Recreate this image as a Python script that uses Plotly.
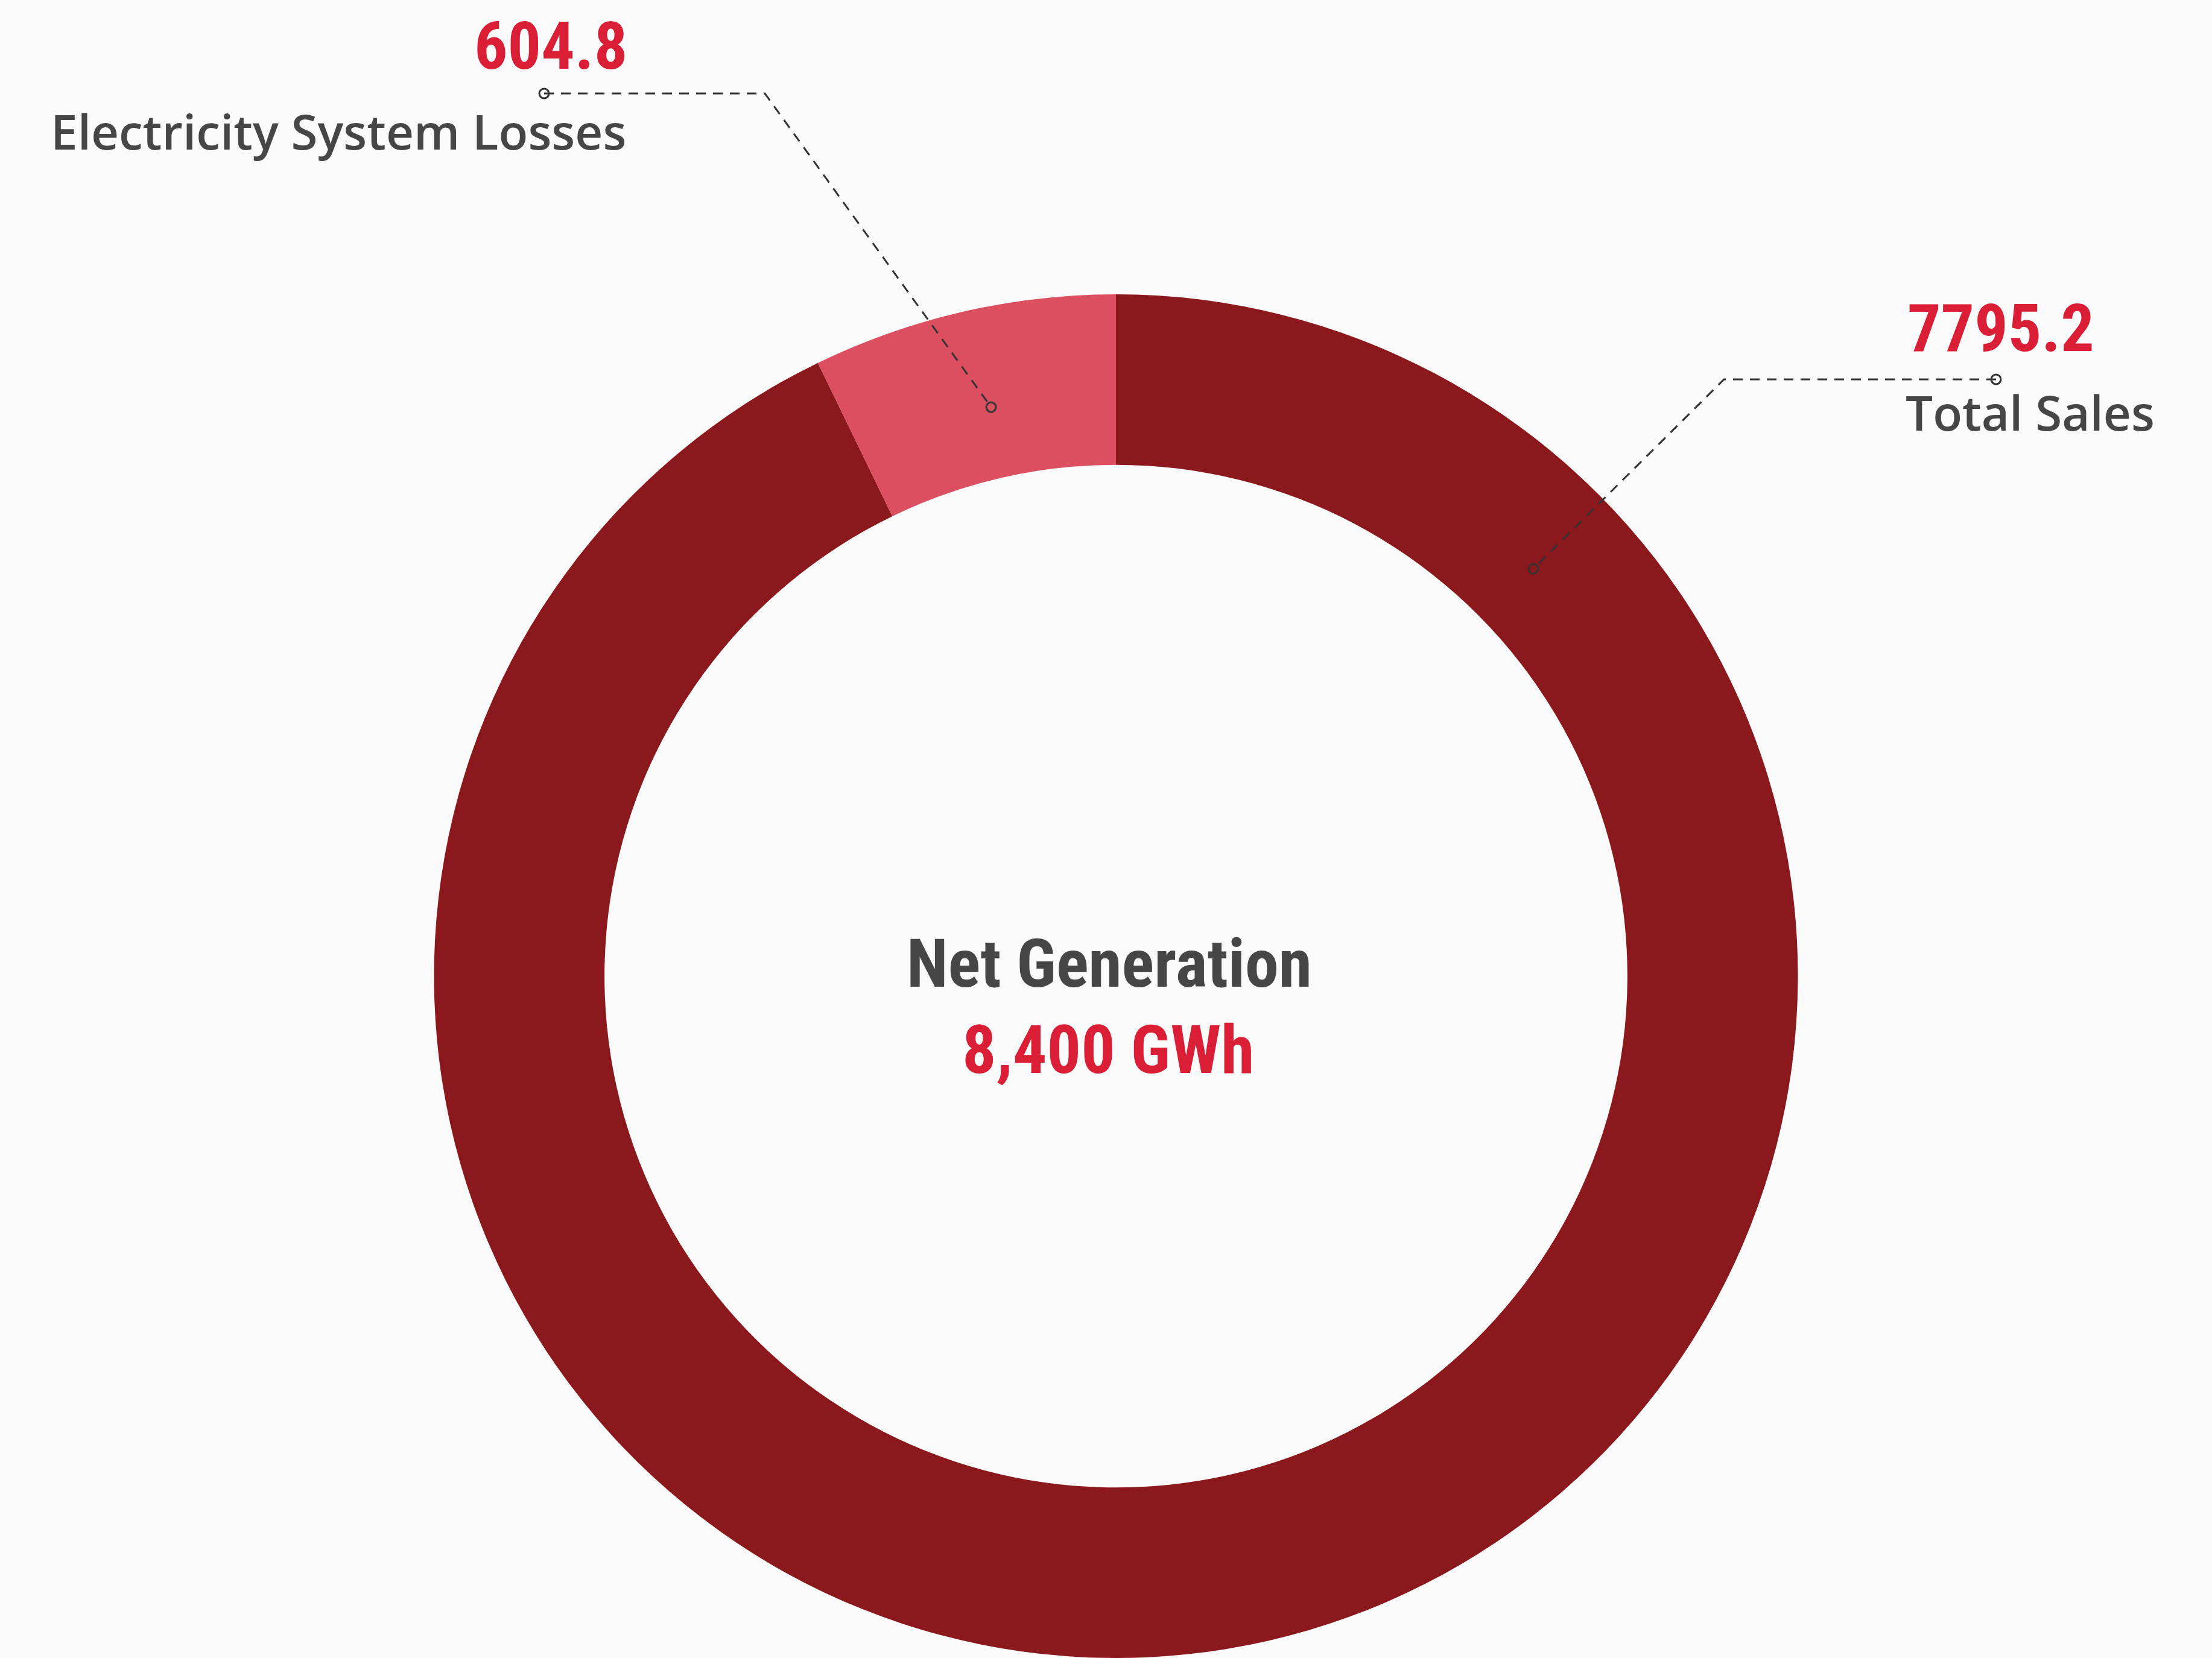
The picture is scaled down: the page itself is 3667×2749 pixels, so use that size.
import plotly.graph_objects as go

# ---- data ----
labels = ["Total Sales", "Electricity System Losses"]
values = [7795.2, 604.8]
colors = ["#8A181C", "#DC4F60"]
center_title = "Net Generation"
unit = "GWh"

W, H = 3667, 2749
BG = "#FAFAFA"
RED = "#D91E36"
GRAY = "#464646"
LINE = "#333333"
NUM_FONT = "Roboto Condensed, Roboto, sans-serif"
LBL_FONT = "Open Sans, Noto Sans, sans-serif"


def px(x):
    return x / W


def py(y):
    return 1 - y / H


fig = go.Figure()
fig.add_trace(go.Pie(
    labels=labels,
    values=values,
    hole=0.75,
    sort=False,
    direction="clockwise",
    rotation=0,
    textinfo="none",
    marker=dict(colors=colors, line=dict(width=0)),
    domain=dict(x=[px(1850 - 1131), px(1850 + 1131)], y=[0, py(488)]),
    showlegend=False,
))

total = sum(values)
annotations = [
    dict(text=f"{values[1]:.1f}", x=px(1042), y=py(76), xanchor="right", yanchor="middle",
         font=dict(family=NUM_FONT, size=110, color=RED, weight="bold")),
    dict(text=labels[1], x=px(1040), y=py(217), xanchor="right", yanchor="middle",
         font=dict(family=LBL_FONT, size=80, color=GRAY, weight=600)),
    dict(text=f"{values[0]:.1f}", x=px(3160), y=py(545), xanchor="left", yanchor="middle",
         font=dict(family=NUM_FONT, size=110, color=RED, weight="bold")),
    dict(text=labels[0], x=px(3157), y=py(682), xanchor="left", yanchor="middle",
         font=dict(family=LBL_FONT, size=80, color=GRAY, weight=600)),
    dict(text=center_title, x=px(1839), y=py(1597), xanchor="center", yanchor="middle",
         font=dict(family=NUM_FONT, size=112, color=GRAY, weight="bold")),
    dict(text=f"{total:,.0f} {unit}", x=px(1837), y=py(1740), xanchor="center", yanchor="middle",
         font=dict(family=NUM_FONT, size=112, color=RED, weight="bold")),
]
for a in annotations:
    a.update(xref="paper", yref="paper", showarrow=False)

shapes = []


def leader(points):
    path = "M " + " L ".join(f"{px(x)},{py(y)}" for x, y in points)
    shapes.append(dict(type="path", xref="paper", yref="paper", path=path,
                       line=dict(color=LINE, width=3, dash="16px,12px")))
    for (x, y) in (points[0], points[-1]):
        shapes.append(dict(type="circle", xref="paper", yref="paper",
                           xsizemode="pixel", ysizemode="pixel",
                           xanchor=px(x), yanchor=py(y),
                           x0=-8, x1=8, y0=-8, y1=8,
                           line=dict(color=LINE, width=3),
                           fillcolor="rgba(0,0,0,0)"))


leader([(902, 155), (1268, 155), (1643, 675)])
leader([(3309, 629), (2858, 629), (2542, 943)])

fig.update_layout(
    width=W, height=H,
    margin=dict(l=0, r=0, t=0, b=0),
    paper_bgcolor=BG, plot_bgcolor=BG,
    annotations=annotations,
    shapes=shapes,
    showlegend=False,
)

fig.write_html(
    "out.html",
    config={"displayModeBar": False},
    post_script="document.body.style.margin='0px';document.body.style.background='#FAFAFA';",
)
